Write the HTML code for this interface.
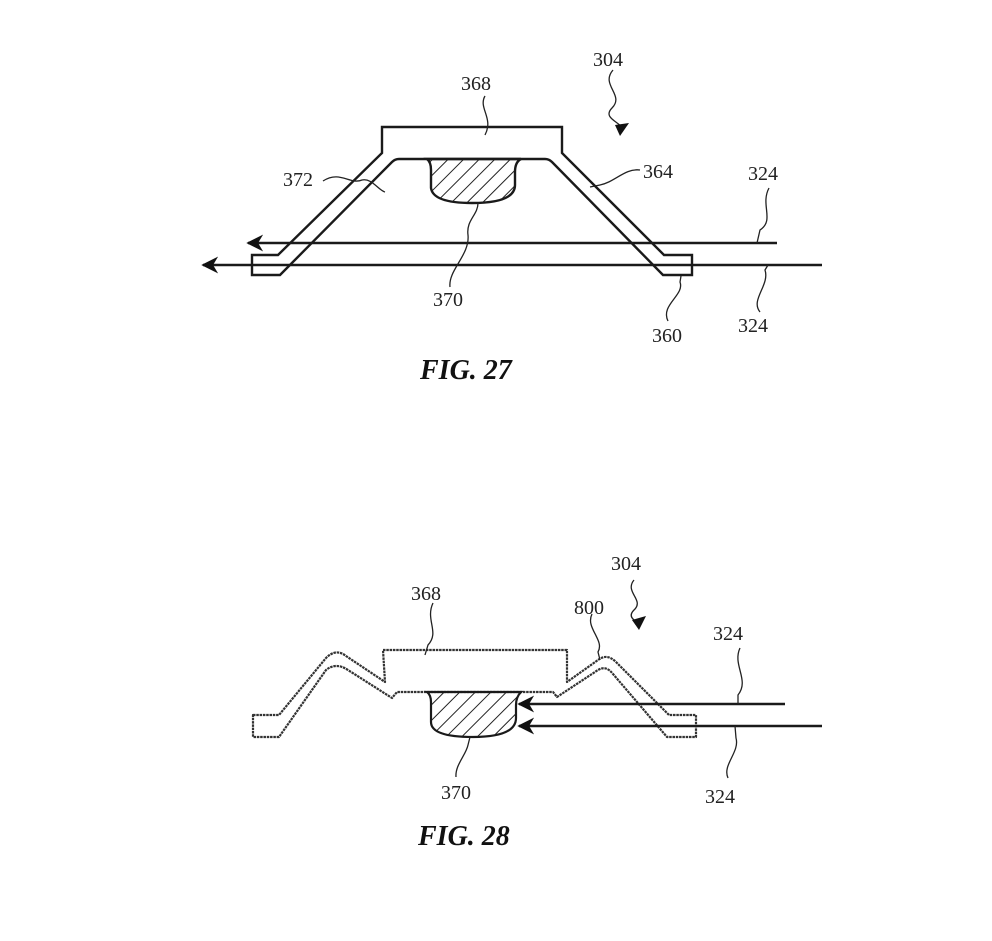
<!DOCTYPE html>
<html><head><meta charset="utf-8"><style>
html,body{margin:0;padding:0;background:#fff;}
svg{display:block;}
text{font-family:"Liberation Serif",serif;font-size:20px;fill:#222;}
.fig{font-size:28px;font-weight:bold;font-style:italic;fill:#111;}
</style></head><body>
<svg width="992" height="941" viewBox="0 0 992 941" xmlns="http://www.w3.org/2000/svg">
<defs>
<pattern id="h" patternUnits="userSpaceOnUse" width="11" height="11" patternTransform="rotate(45)">
<line x1="0" y1="0" x2="0" y2="11" stroke="#222" stroke-width="2"/>
</pattern>
<marker id="a" viewBox="0 0 10 10" refX="9" refY="5" markerWidth="7" markerHeight="7" orient="auto">
<path d="M10,5 L0,0 L3,5 L0,10 Z" fill="#111"/>
</marker>
</defs>
<g fill="none" stroke="#1a1a1a" stroke-width="2.4" stroke-linejoin="miter">
<path d="M382,127 L562,127 L562,153 L664,255 L692,255 L692,275 L663,275 L552,162 Q549,159 545,159 L399,159 Q395,159 392,162 L280,275 L252,275 L252,255 L278,255 L382,153 Z" fill="#fff"/>
<path d="M427,159 L521,159 Q515,162 515,172 L515,185 Q515,203 472,203 Q433,203 431,188 L431,170 Q431,162 427,159 Z" fill="url(#h)"/>
<line x1="777" y1="243" x2="248" y2="243" marker-end="url(#a)"/>
<line x1="822" y1="265" x2="203" y2="265" marker-end="url(#a)"/>
</g>
<g fill="none" stroke="#222" stroke-width="1.3">
<path d="M613,70 C600,85 625,95 612,108 C602,118 620,122 622,128"/>
<path d="M485,96 C478,108 494,118 485,135"/>
<path d="M323,181 C340,170 350,185 362,180 C372,178 378,190 385,192"/>
<path d="M640,170 C625,168 615,182 600,185 L590,187"/>
<path d="M769,188 C760,205 775,220 760,230 L757,243"/>
<path d="M760,312 C750,300 770,285 765,270 L768,265"/>
<path d="M450,287 C448,270 470,255 468,235 C466,220 478,215 478,203"/>
<path d="M668,321 C660,305 685,295 680,282 L681,276"/>
</g>
<path d="M615,125 L629,123 L620,136 Z" fill="#111"/>
<text x="593" y="66">304</text>
<text x="461" y="90">368</text>
<text x="283" y="186">372</text>
<text x="643" y="178">364</text>
<text x="748" y="180">324</text>
<text x="738" y="332">324</text>
<text x="433" y="306">370</text>
<text x="652" y="342">360</text>
<text x="420" y="379" class="fig">FIG. 27</text>

<g fill="none" stroke="#333" stroke-width="2.2" stroke-dasharray="2.5 0.8" stroke-linejoin="round">
<path d="M253,715 L279,715 L326,658 Q336,648 346,656 L385,682 L383,650 L567,650 L567,682 L598,660 Q607,653 616,662 L669,715 L696,715 L696,737 L667,737 L613,674 Q606,665 598,670 L557,697 L553,692 L397,692 L392,698 L348,670 Q336,662 326,670 L279,737 L253,737 Z" fill="#fff"/>
</g>
<path d="M427,692 L521,692 Q516,697 516,705 L516,718 Q516,737 473,737 Q431,737 431,722 L431,702 Q431,695 427,692 Z" fill="url(#h)" stroke="#1a1a1a" stroke-width="2.2"/>
<g stroke="#1a1a1a" stroke-width="2.4">
<line x1="785" y1="704" x2="519" y2="704" marker-end="url(#a)"/>
<line x1="822" y1="726" x2="519" y2="726" marker-end="url(#a)"/>
</g>
<g fill="none" stroke="#222" stroke-width="1.3">
<path d="M634,580 C624,592 645,600 634,610 C626,618 638,622 638,622"/>
<path d="M433,603 C425,620 440,632 428,645 L425,655"/>
<path d="M592,614 C585,628 605,640 598,652 L600,660"/>
<path d="M740,648 C732,665 750,680 738,695 L738,704"/>
<path d="M728,778 C722,765 740,752 736,738 L735,726"/>
<path d="M456,777 C455,765 466,755 468,745 L470,737"/>
</g>
<path d="M632,620 L646,616 L639,630 Z" fill="#111"/>
<text x="611" y="570">304</text>
<text x="411" y="600">368</text>
<text x="574" y="614">800</text>
<text x="713" y="640">324</text>
<text x="705" y="803">324</text>
<text x="441" y="799">370</text>
<text x="418" y="845" class="fig">FIG. 28</text>
</svg>
</body></html>
